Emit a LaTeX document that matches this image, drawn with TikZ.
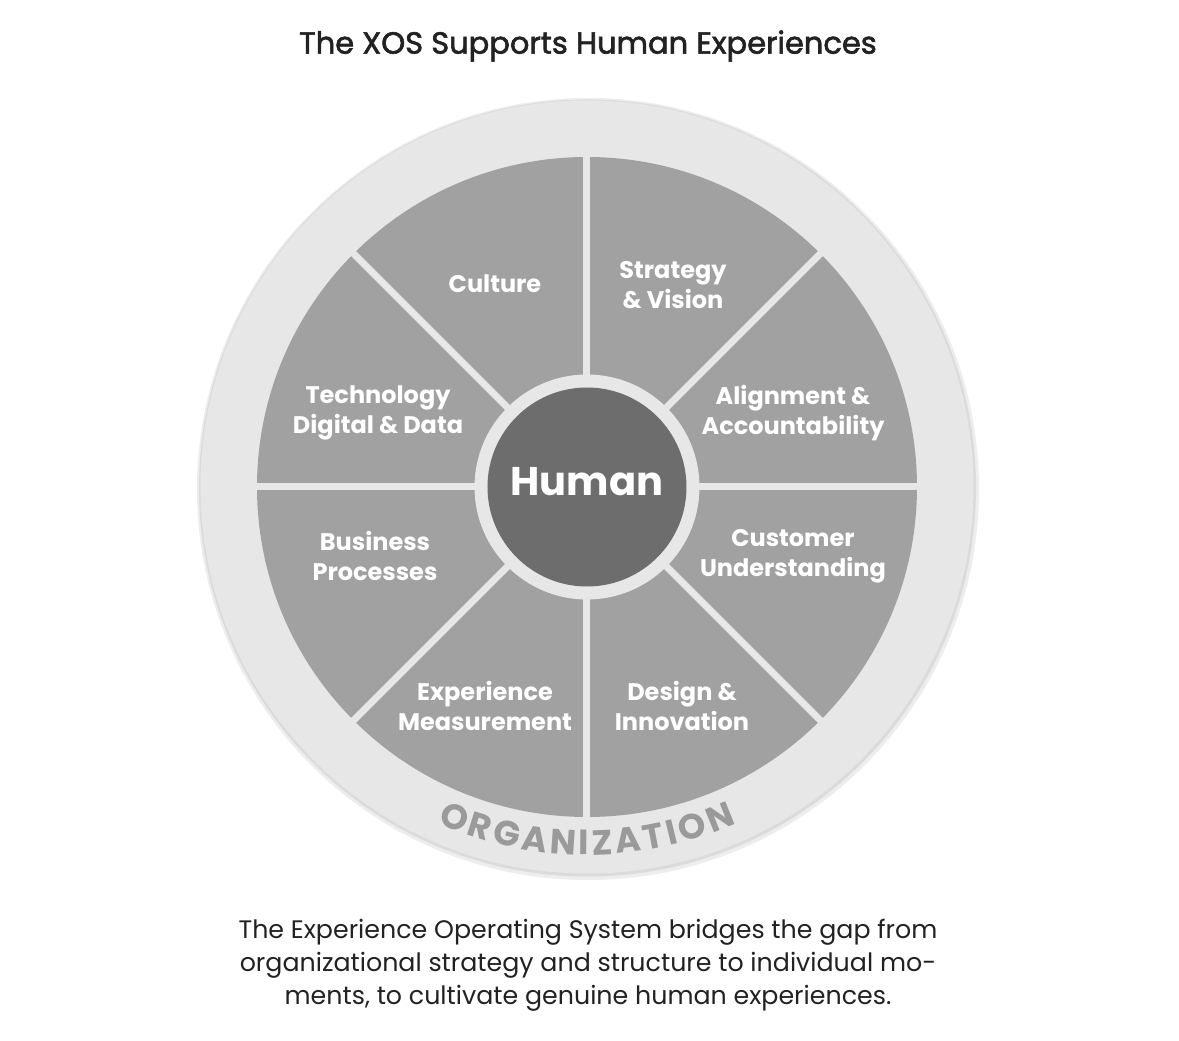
\documentclass[tikz,border=0pt]{standalone}
\usepackage{fontspec}
\setmainfont{Poppins}
\newfontfamily\titlefont[FakeBold=2]{Poppins}
\usetikzlibrary{decorations.text}
\definecolor{ringc}{HTML}{E7E7E7}
\definecolor{sectc}{HTML}{A1A1A1}
\definecolor{humanc}{HTML}{6D6D6D}
\definecolor{orgc}{HTML}{9A9A9A}
\definecolor{textc}{HTML}{222222}
\tikzset{
  seclabel/.style={text=white, align=center, font=\fontsize{24}{30}\selectfont\bfseries},
}
\begin{document}
\begin{tikzpicture}[x=1pt,y=1pt]
\useasboundingbox (-587,-554) rectangle (592,487);
\fill[white] (-587,-554) rectangle (592,487);
% outer ring with soft edge
\fill[black!7] (1,-2) circle (391);
\fill[black!14] (0.5,-1) circle (388.5);
\fill[ringc] (0,0) circle (386.5);
% sector disk
\fill[sectc] (0,0) circle (330);
\foreach \a in {0,45,...,315} \draw[ringc, line width=7] (0,0) -- (\a:331);
% human
\fill[ringc] (0,0) circle (112.5);
\fill[humanc] (0,0) circle (99.5);
\node[text=white, font=\fontsize{40}{40}\selectfont\bfseries] (human) at (0,5) {Human};
% sector labels
\node[seclabel] (culture) at (-92,203) {Culture};
\node[seclabel] (strategy) at (86,202) {Strategy\\\& Vision};
\node[seclabel] (align) at (206,74) {Alignment \&\\Accountability};
\node[seclabel] (customer) at (206,-69) {Customer\\Understanding};
\node[seclabel] (design) at (95,-219) {Design \&\\Innovation};
\node[seclabel] (exper) at (-102,-219) {Experience\\Measurement};
\node[seclabel] (business) at (-212,-69) {Business\\Processes};
\node[seclabel] (tech) at (-209,74) {Technology\\Digital \& Data};
% curved label
\path[decorate, decoration={text along path, text align=fit to path, text color=orgc,
  text={|\fontsize{35}{40}\selectfont\bfseries|ORGANIZATION}}]
  (246:368) arc (246:294:368);
% title and caption
\node[text=textc, font=\fontsize{30.5}{34}\selectfont\titlefont] (title) at (1,441) {The XOS Supports Human Experiences};
\node[text=textc, align=center, font=\fontsize{25.3}{33}\selectfont] (caption) at (1,-478)
  {The Experience Operating System bridges the gap from\\organizational strategy and structure to individual mo-\\ments, to cultivate genuine human experiences.};
\end{tikzpicture}
\end{document}
